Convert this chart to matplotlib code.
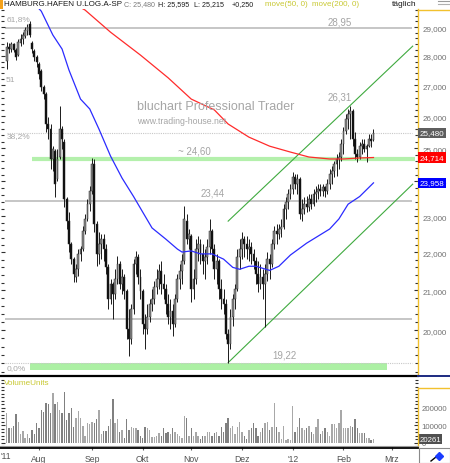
import numpy as np
import pandas as pd
import matplotlib
matplotlib.use("Agg")
import matplotlib.pyplot as plt
from matplotlib.ticker import FixedLocator, FuncFormatter, NullFormatter
from matplotlib.lines import Line2D
from matplotlib.patches import Rectangle

plt.rcParams['font.family'] = ['Liberation Sans', 'DejaVu Sans']

# ---------------- data ----------------
start_date = '2011-07-12'
calendar_end = '2012-03-30'

opens = [27.81, 28.30, 28.23, 28.40, 28.19, 28.02, 28.44, 28.58, 28.68, 28.86,
         29.11, 28.44, 28.16, 27.95, 27.71, 27.48, 26.95, 26.72, 25.75, 25.59,
         24.67, 24.91, 24.07, 24.73, 25.59, 25.19, 23.48, 22.86, 22.23, 21.82,
         21.34, 21.55, 21.96, 22.09, 22.58, 22.92, 23.34, 23.71, 24.52, 22.78,
         21.96, 22.23, 22.36, 22.09, 21.60, 20.77, 21.16, 20.90, 21.29, 21.69,
         21.16, 21.34, 20.98, 20.02, 19.78, 20.52, 21.69, 21.87, 21.34, 20.98,
         20.14, 20.02, 20.32, 20.65, 20.77, 21.08, 21.29, 21.50, 21.16, 21.03,
         20.65, 20.32, 20.47, 20.14, 20.77, 21.29, 21.50, 21.77, 22.86, 22.36,
         22.44, 21.03, 21.29, 22.09, 22.23, 21.96, 21.77, 21.87, 22.15, 22.58,
         22.09, 21.55, 21.77, 21.03, 20.77, 20.65, 19.90, 19.66, 20.32, 20.77,
         21.03, 21.87, 22.09, 22.36, 22.23, 22.09, 22.15, 21.96, 21.77, 21.42,
         21.16, 21.34, 21.16, 21.42, 21.82, 21.69, 22.23, 22.58, 22.50, 22.64,
         22.70, 23.20, 23.40, 23.62, 23.77, 24.13, 23.92, 24.07, 23.06, 23.20,
         23.34, 23.26, 23.48, 23.34, 23.62, 23.68, 23.77, 23.71, 23.83, 23.71,
         23.92, 24.22, 24.30, 24.52, 24.67, 24.73, 25.13, 25.53, 25.91, 26.07,
         26.17, 25.28, 24.82, 24.73, 25.06, 25.13, 24.97, 25.06, 25.28, 25.25]
highs = [28.47, 28.44, 28.48, 28.44, 28.26, 28.58, 28.75, 28.82, 29.00, 29.11,
         29.21, 28.51, 28.23, 28.02, 27.78, 27.54, 27.01, 26.78, 25.97, 25.75,
         25.06, 24.97, 24.97, 26.33, 25.69, 25.28, 23.54, 23.12, 22.28, 21.87,
         21.69, 22.09, 22.17, 22.72, 23.06, 23.48, 23.86, 24.70, 24.67, 22.86,
         22.56, 22.50, 22.50, 22.23, 21.69, 21.29, 21.21, 21.55, 21.90, 21.77,
         21.55, 21.42, 21.03, 20.52, 20.65, 21.82, 22.04, 21.96, 21.55, 21.03,
         20.39, 20.65, 20.77, 21.03, 21.24, 21.55, 21.69, 21.77, 21.42, 21.16,
         20.90, 20.77, 20.65, 20.90, 21.42, 21.69, 21.96, 23.29, 23.06, 22.64,
         22.50, 21.55, 22.36, 22.44, 22.36, 22.23, 22.09, 22.36, 22.92, 22.64,
         22.23, 21.96, 21.82, 21.29, 21.03, 20.77, 20.02, 20.52, 20.90, 21.16,
         22.09, 22.36, 22.56, 22.44, 22.44, 22.36, 22.28, 22.09, 21.87, 21.77,
         21.69, 21.55, 21.69, 22.01, 21.96, 22.36, 22.72, 22.78, 22.78, 22.92,
         23.34, 23.54, 23.77, 23.92, 24.28, 24.22, 24.22, 24.13, 23.48, 23.54,
         23.57, 23.62, 23.62, 23.77, 23.86, 23.92, 23.92, 23.92, 23.86, 24.07,
         24.36, 24.45, 24.61, 24.82, 24.88, 25.28, 25.66, 26.07, 26.23, 26.31,
         26.23, 25.50, 24.97, 25.19, 25.28, 25.28, 25.13, 25.44, 25.44, 25.595]
lows = [27.54, 28.09, 28.13, 28.13, 27.85, 27.98, 28.33, 28.40, 28.61, 28.72,
        28.65, 28.09, 27.81, 27.61, 27.21, 26.81, 26.55, 25.50, 25.28, 24.36,
        24.30, 23.56, 24.01, 24.67, 24.97, 23.26, 22.64, 22.01, 21.68, 21.21,
        21.21, 21.37, 21.77, 22.04, 22.50, 22.86, 23.14, 23.62, 22.56, 21.63,
        21.69, 21.82, 21.77, 21.42, 20.52, 20.65, 20.27, 20.77, 21.16, 21.03,
        20.90, 20.77, 19.78, 19.37, 19.66, 20.39, 21.42, 21.16, 20.77, 19.90,
        19.54, 19.90, 20.20, 20.47, 20.65, 20.90, 21.03, 20.90, 20.77, 20.39,
        20.14, 20.02, 19.85, 20.07, 20.70, 21.03, 21.16, 21.69, 22.23, 22.09,
        20.70, 20.77, 21.16, 21.77, 21.69, 21.42, 21.29, 21.69, 21.96, 21.77,
        21.29, 21.16, 20.77, 20.52, 20.39, 19.78, 19.22, 19.54, 20.09, 20.52,
        20.98, 21.55, 21.82, 21.87, 21.82, 21.77, 21.69, 21.55, 21.16, 20.95,
        21.03, 20.77, 20.07, 21.24, 21.29, 21.60, 22.09, 22.23, 22.36, 22.42,
        22.64, 22.92, 23.20, 23.48, 23.62, 23.77, 23.62, 22.92, 22.86, 23.06,
        23.12, 23.14, 23.20, 23.29, 23.40, 23.48, 23.57, 23.57, 23.54, 23.62,
        23.77, 23.92, 24.13, 24.16, 24.36, 24.61, 24.82, 25.44, 25.59, 25.28,
        25.06, 24.67, 24.58, 24.67, 24.82, 24.88, 24.58, 25.03, 25.03, 25.215]
closes = [28.30, 28.23, 28.40, 28.19, 27.95, 28.48, 28.58, 28.72, 28.89, 29.00,
          28.72, 28.23, 27.95, 27.78, 27.38, 26.95, 26.72, 25.75, 25.59, 24.67,
          24.97, 23.92, 24.67, 25.59, 25.28, 23.48, 22.86, 22.23, 21.82, 21.42,
          21.55, 21.96, 22.09, 22.58, 22.92, 23.34, 23.71, 24.52, 22.78, 21.96,
          22.23, 22.36, 22.09, 21.60, 20.77, 21.16, 20.90, 21.29, 21.69, 21.16,
          21.34, 20.98, 20.02, 19.78, 20.52, 21.69, 21.87, 21.34, 20.98, 20.14,
          20.02, 20.32, 20.65, 20.77, 21.08, 21.29, 21.50, 21.16, 21.03, 20.65,
          20.32, 20.47, 20.14, 20.77, 21.29, 21.50, 21.77, 22.92, 22.36, 22.50,
          21.03, 21.29, 22.09, 22.23, 21.96, 21.77, 21.87, 22.15, 22.58, 22.09,
          21.55, 21.77, 21.03, 20.77, 20.65, 19.90, 19.66, 20.32, 20.77, 21.03,
          21.87, 22.09, 22.36, 22.23, 22.09, 22.15, 21.96, 21.77, 21.42, 21.16,
          21.34, 21.16, 21.42, 21.82, 21.69, 22.23, 22.58, 22.50, 22.64, 22.70,
          23.20, 23.40, 23.62, 23.77, 24.13, 23.92, 24.07, 23.06, 23.20, 23.34,
          23.26, 23.48, 23.34, 23.62, 23.68, 23.77, 23.71, 23.83, 23.71, 23.92,
          24.22, 24.30, 24.52, 24.67, 24.73, 25.13, 25.53, 25.91, 26.07, 26.17,
          25.28, 24.82, 24.73, 25.06, 25.13, 24.97, 25.06, 25.28, 25.23, 25.48]

volumes = [168, 81, 81, 98, 162, 116, 52, 64, 29, 52,
           29, 75, 52, 110, 81, 185, 173, 225, 220, 168,
           283, 220, 231, 185, 168, 289, 127, 168, 197, 87,
           139, 179, 139, 98, 40, 110, 104, 116, 110, 133,
           185, 52, 67, 67, 98, 138, 249, 110, 133, 61,
           75, 29, 133, 70, 87, 81, 81, 75, 40, 29,
           92, 81, 70, 35, 35, 40, 58, 40, 81, 58,
           61, 52, 81, 61, 52, 37, 26, 150, 139, 37,
           81, 40, 61, 40, 23, 40, 37, 61, 61, 37,
           58, 61, 37, 92, 60, 110, 139, 81, 98, 52,
           87, 116, 61, 40, 23, 75, 81, 110, 81, 40,
           61, 81, 110, 116, 70, 92, 225, 87, 61, 23,
           98, 13, 23, 13, 208, 61, 87, 139, 81, 70,
           81, 98, 61, 52, 87, 133, 52, 64, 81, 61,
           40, 104, 104, 81, 110, 185, 81, 81, 81, 98,
           92, 133, 81, 58, 58, 58, 29, 29, 13, 20.261]  # thousands

ma50_days = [13, 15, 20, 24, 27, 32, 36, 40, 45, 50, 55, 59, 63, 69, 74, 76, 80,
             84, 89, 94, 98, 101, 105, 108, 114, 118, 123, 130, 140, 144, 148, 153, 159]
ma50_vals = [29.75, 29.57, 28.72, 28.23, 27.51, 26.55, 26.23, 25.59, 24.76, 24.10,
             23.56, 23.11, 22.67, 22.36, 22.09, 22.01, 22.04, 21.96, 21.96, 21.82,
             21.60, 21.55, 21.63, 21.63, 21.52, 21.63, 21.93, 22.25, 22.64, 22.92,
             23.34, 23.56, 23.958]
ma200_days = [30, 34, 45, 58, 70, 80, 90, 96, 105, 114, 123, 131, 140, 146, 153, 159]
ma200_vals = [29.80, 29.61, 28.82, 28.02, 27.25, 26.55, 26.20, 25.75, 25.34, 25.06,
              24.88, 24.73, 24.67, 24.67, 24.70, 24.714]

gray_levels = [28.95, 23.44, 20.28]
support_level = 24.68
low_level = 19.22
peak_level = 26.31
channel_days = [96, 176]
channel_upper = [22.86, 28.33]
channel_lower = [19.22, 23.92]

price_ticks = [20, 21, 22, 23, 24, 25, 26, 27, 28, 29]
volume_ticks = [0, 100000, 200000]
month_abbr = {1: "'12", 2: 'Feb', 3: 'Mrz', 8: 'Aug', 9: 'Sep', 10: 'Okt', 11: 'Nov', 12: 'Dez'}

# ---------------- figure ----------------
W, H = 450, 464
fig = plt.figure(figsize=(W / 100, H / 100), dpi=100)
fig.patch.set_facecolor('white')
FS = 5.8


def fx(px):
    return px / W


def fy(py):
    return 1 - py / H


def ftext(px, py, s, **kw):
    kw.setdefault('va', 'center')
    kw.setdefault('ha', 'left')
    fig.text(fx(px), fy(py), s, **kw)


def fline(x0, y0, x1, y1, **kw):
    fig.add_artist(Line2D([fx(x0), fx(x1)], [fy(y0), fy(y1)], transform=fig.transFigure, **kw))


ax = fig.add_axes([fx(1), fy(376), fx(418) - fx(1), fy(10) - fy(376)])
axv = fig.add_axes([fx(1), fy(448), fx(418) - fx(1), fy(379) - fy(448)], sharex=ax)

n = len(closes)
x = np.arange(n)
o = np.array(opens)
c = np.array(closes)
hi = np.array(highs)
lo = np.array(lows)
up = c >= o

ax.set_yscale('log')
ax.set_xlim(-2.47, 178.3)
ax.set_ylim(18.93, 29.65)

# horizontal reference lines
ax.hlines(gray_levels, -0.7, 175.7, color='#c6c6c6', lw=1.4, zorder=1)
ax.hlines(c[-1], 0.1, 175.7, color='#c8c8c8', lw=0.8, linestyles=(0, (1, 1)), zorder=1)
ax.hlines(support_level, 11, 177, color='#b4f0ac', lw=3.0, zorder=1)
ax.fill_between([10.1, 164.8], 19.04, low_level, color='#acf0a4', lw=0, zorder=1)
ax.hlines(low_level, -0.7, 175.7, color='#c8c8c8', lw=0.8, linestyles=(0, (1, 1)), zorder=1)

# trend channel
ax.plot(channel_days, channel_upper, color='#3faa3f', lw=0.8, zorder=2)
ax.plot(channel_days, channel_lower, color='#3faa3f', lw=0.8, zorder=2)

# moving averages
ax.plot(ma50_days, ma50_vals, color='#2b2bff', lw=0.9, zorder=5)
ax.plot(ma200_days, ma200_vals, color='#ff2b2b', lw=0.9, zorder=5)

# candles
ax.vlines(x, lo, hi, color='#1a1a1a', lw=0.7, zorder=3)
body_lo = np.minimum(o, c)
body_hi = np.maximum(o, c)
ax.bar(x, body_hi - body_lo, bottom=body_lo, width=0.8,
       color=np.where(up, '#8a8a8a', '#0a0a0a'), edgecolor='#2a2a2a', linewidth=0.35, zorder=4)

# labels in chart
lab = dict(color='#a4a4a4', fontsize=7, ha='center', va='bottom', zorder=6)
ax.text(144.5, gray_levels[0] * 1.003, '28,95', **lab)
ax.text(144.5, peak_level * 1.006, '26,31', **lab)
ax.text(81.2, support_level * 1.004, '~ 24,60', **lab)
ax.text(89.4, gray_levels[1] * 1.004, '23,44', **lab)
ax.text(120.6, low_level * 1.004, '19,22', **lab)
fib = dict(color='#a8a8a8', fontsize=6, ha='left', va='center', zorder=6)
ax.text(0.1, 29.29, '61,8%', **fib)
ax.text(-0.6, 27.21, '51', **fib)
ax.text(0.1, 25.40, '38,2%', **fib)
ax.text(0.1, 19.11, '0,0%', **fib)
ax.text(56.5, 26.33, 'bluchart Professional Trader', color='#a6a6a6', fontsize=9, ha='left', va='center', zorder=6)
ax.text(56.5, 25.87, 'www.trading-house.net', color='#a6a6a6', fontsize=6.3, ha='left', va='center', zorder=6)

# axes styling
fmt_price = FuncFormatter(lambda v, p: f"{v:.3f}".replace('.', ','))
ax.yaxis.set_major_locator(FixedLocator(price_ticks))
ax.yaxis.set_major_formatter(fmt_price)
ax.yaxis.set_minor_locator(FixedLocator(np.arange(19.0, 29.8, 0.2)))
ax.yaxis.set_minor_formatter(NullFormatter())
ax.tick_params(axis='y', which='both', direction='in', left=True, right=True,
               labelleft=False, labelright=True, color='#303030', width=0.8)
ax.tick_params(axis='y', which='major', length=3, labelsize=FS, labelcolor='#707070', pad=3.5)
ax.tick_params(axis='y', which='minor', length=2)
ax.tick_params(axis='x', which='both', bottom=False, labelbottom=False)
for s in ['left', 'top', 'bottom']:
    ax.spines[s].set_visible(False)
ax.spines['right'].set_color('#f2c12e')
ax.spines['right'].set_linewidth(1.0)
ax.set_facecolor('white')

tbox = dict(ha='left', va='center', color='white', fontsize=FS, zorder=10, clip_on=False,
            transform=ax.get_yaxis_transform())
ax.text(1.004, c[-1], f"{c[-1]:.3f}".replace('.', ','),
        bbox=dict(boxstyle='square,pad=0.2', fc='#5e5e5e', ec='none'), **tbox)
ax.text(1.004, ma200_vals[-1], f"{ma200_vals[-1]:.3f}".replace('.', ','),
        bbox=dict(boxstyle='square,pad=0.2', fc='#ff0000', ec='none'), **tbox)
ax.text(1.004, ma50_vals[-1], f"{ma50_vals[-1]:.3f}".replace('.', ','),
        bbox=dict(boxstyle='square,pad=0.2', fc='#0000ff', ec='none'), **tbox)

# volume
vol = np.array(volumes) * 1000
axv.bar(x, vol, width=0.6, color=np.where(up, '#a8a8a8', '#808080'), lw=0, zorder=3)
axv.set_ylim(-25000, 370000)
axv.yaxis.set_major_locator(FixedLocator(volume_ticks))
axv.yaxis.set_major_formatter(FuncFormatter(lambda v, p: f"{int(v)}"))
axv.yaxis.set_minor_locator(FixedLocator(np.arange(-20000, 360001, 20000)))
axv.yaxis.set_minor_formatter(NullFormatter())
axv.tick_params(axis='y', which='both', direction='in', left=True, right=True,
                labelleft=False, labelright=True, color='#303030', width=0.8)
axv.tick_params(axis='y', which='major', length=3, labelsize=FS - 0.2, labelcolor='#707070', pad=2.5)
axv.tick_params(axis='y', which='minor', length=2)
for s in ['left', 'top', 'bottom', 'right']:
    axv.spines[s].set_visible(False)
axv.text(1.004, vol[-1], f"{int(round(vol[-1]))}", ha='left', va='center', color='white',
         fontsize=FS - 0.2, zorder=10, clip_on=False, transform=axv.get_yaxis_transform(),
         bbox=dict(boxstyle='square,pad=0.15', fc='#505050', ec='none'))
axv.text(0.008, 0.93, 'VolumeUnits', transform=axv.transAxes, color='#c8c832', fontsize=5.9,
         ha='left', va='center')

# month ticks
cal = pd.bdate_range(start_date, calendar_end)
tick_pos, tick_lab = [], []
for i in range(1, len(cal)):
    if cal[i].month != cal[i - 1].month:
        tick_pos.append(i)
        tick_lab.append(month_abbr[cal[i].month])
axv.set_xticks(tick_pos)
axv.set_xticklabels(tick_lab)
axv.tick_params(axis='x', direction='out', length=2.5, color='#606060', labelsize=6.2,
                labelcolor='#505050', pad=2.5)
ftext(0.5, 457, "'11", fontsize=6.2, color='#505050', ha='left')

# frame lines
fline(0, 376.5, 418, 376.5, color='black', lw=1.6)
fline(418, 376.5, 450, 376.5, color='#1c2a80', lw=1.4)
fline(418, 11, 450, 11, color='#f2c12e', lw=1.0)
fline(418, 389, 450, 389, color='#f2c12e', lw=1.0)
fline(418, 389, 418, 448, color='#f2c12e', lw=1.0)
fline(0, 447, 418, 447, color='#9a9a9a', lw=0.8)
fline(0, 449, 418, 449, color='black', lw=1.3)
fig.add_artist(Rectangle((fx(419), fy(464)), fx(31), fy(449) - fy(464), transform=fig.transFigure,
                         fc='white', ec='#8a8a8a', lw=0.8))
fline(431, 462, 436, 458, color='black', lw=1.0)
fig.add_artist(Line2D([fx(439)], [fy(456.5)], marker='D', ms=4, color='#1a3cff',
                      transform=fig.transFigure))
fline(438, 2, 450, 2, color='#9a9a9a', lw=0.8)
fline(438, 4.5, 450, 4.5, color='#b0b0b0', lw=0.8)
fig.add_artist(Rectangle((0, fy(10)), fx(3), fy(0) - fy(10), transform=fig.transFigure,
                         fc='#f5a21b', ec='none'))

# header
fmt = lambda v: f"{v:.3f}".replace('.', ',')
ftext(4, 5, 'HAMBURG.HAFEN U.LOG.A-SP', color='#1a1a1a', fontsize=FS)
ftext(124, 5, f"C: {fmt(c[-1])}", color='#7a7a7a', fontsize=5.1)
ftext(158, 5, f"H: {fmt(hi[-1])}", color='#1a1a1a', fontsize=5.1)
ftext(194, 5, f"L: {fmt(lo[-1])}", color='#1a1a1a', fontsize=5.1)
ftext(232, 5, f"+{fmt(c[-1] - c[-2])}", color='#1a1a1a', fontsize=5.1)
ftext(265, 5, 'move(50, 0)', color='#c8c832', fontsize=FS)
ftext(312, 5, 'move(200, 0)', color='#c8c832', fontsize=FS)
ftext(392, 5, 'täglich', color='#1a1a1a', fontsize=6)

fig.savefig('out.png', dpi=100, facecolor='white')
